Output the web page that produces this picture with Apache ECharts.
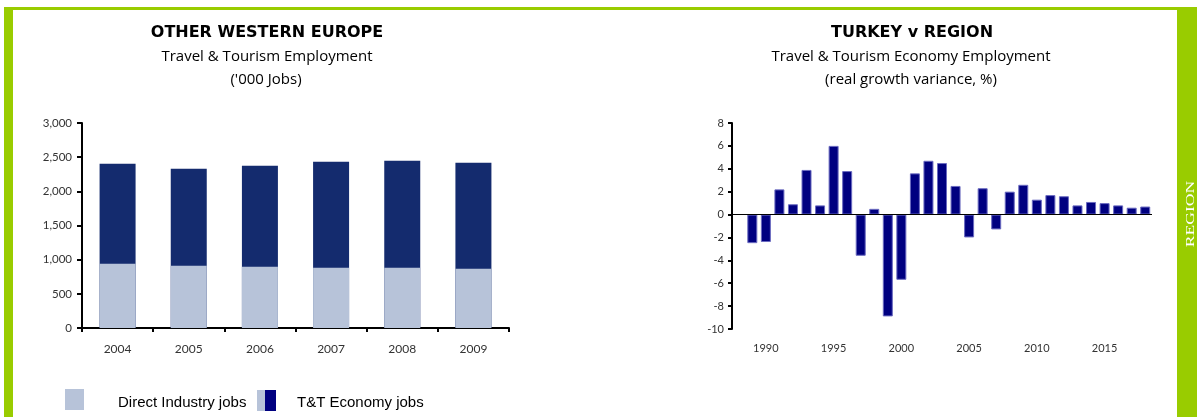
<!DOCTYPE html>
<html>
<head>
<meta charset="utf-8">
<script src="https://cdn.jsdelivr.net/npm/echarts@6/dist/echarts.min.js"></script>
<style>
  html, body { margin: 0; padding: 0; background: #ffffff; }
  #chart { width: 1197px; height: 417px; }
</style>
</head>
<body>
<div id="chart"></div>
<script>
// Left panel: Other Western Europe, Travel & Tourism employment ('000 jobs)
const empYears = ['2004', '2005', '2006', '2007', '2008', '2009'];
const directJobs = [941, 912, 897, 882, 882, 868];
const economyJobs = [2404, 2331, 2375, 2434, 2448, 2419];
const empTicks = [0, 3000, 500];

// Right panel: Turkey v region, T&T economy employment real growth variance (%)
const varYears = ['1988', '1989', '1990', '1991', '1992', '1993', '1994', '1995', '1996', '1997',
  '1998', '1999', '2000', '2001', '2002', '2003', '2004', '2005', '2006', '2007', '2008',
  '2009', '2010', '2011', '2012', '2013', '2014', '2015', '2016', '2017', '2018'];
const growthVariance = [null, -2.5, -2.4, 2.2, 0.9, 3.9, 0.8, 6.0, 3.8, -3.6,
  0.5, -8.9, -5.7, 3.6, 4.7, 4.5, 2.5, -2.0, 2.3, -1.3, 2.0,
  2.6, 1.3, 1.7, 1.6, 0.8, 1.1, 1.0, 0.8, 0.6, 0.7];
const varTicks = [-10, 8, 2];

const legendNames = ['Direct Industry jobs', 'T&T Economy jobs'];
const leftTitle = ['OTHER WESTERN EUROPE', 'Travel & Tourism Employment', "('000 Jobs)"];
const rightTitle = ['TURKEY v REGION', 'Travel & Tourism Economy Employment', '(real growth variance, %)'];
const sideLabel = 'REGION';

const GREEN = '#99CC00';
const LIGHT = '#B7C3D9';
const DARK = '#142B6E';
const NAVY = '#000080';
const LABEL_FONT = 'Lato, "Open Sans", sans-serif';
const HEAD_FONT = 'bold 16px "DejaVu Sans", sans-serif';
const SUB_FONT = '15px "Open Sans", Lato, sans-serif';

const chart = echarts.init(document.getElementById('chart'), null, { renderer: 'canvas' });

const axisText = { color: '#333333', fontSize: 11, fontFamily: LABEL_FONT };

function titleText(str, x, y, font) {
  return {
    type: 'text', silent: true,
    style: {
      text: str, x: x, y: y, align: 'center', verticalAlign: 'middle',
      fill: '#000000', font: font
    }
  };
}

const option = {
  animation: false,
  backgroundColor: '#ffffff',
  grid: [
    { left: 82, top: 123, width: 427, height: 205 },
    { left: 732, top: 123, width: 420, height: 206 }
  ],
  xAxis: [
    {
      gridIndex: 0, type: 'category', data: empYears,
      axisLine: { lineStyle: { color: '#000000', width: 2 } },
      axisTick: { show: true, length: 4, lineStyle: { color: '#000000', width: 2 } },
      axisLabel: Object.assign({}, axisText, { margin: 15, fontSize: 12 })
    },
    {
      gridIndex: 1, type: 'category', data: varYears,
      axisLine: { show: false, onZero: false },
      axisTick: { show: false },
      axisLabel: Object.assign({
        margin: 14,
        interval: function (i, v) { return Number(v) % 5 === 0; }
      }, axisText)
    }
  ],
  yAxis: [
    {
      gridIndex: 0, type: 'value', min: empTicks[0], max: empTicks[1], interval: empTicks[2],
      axisLine: { show: true, lineStyle: { color: '#000000', width: 2 } },
      axisTick: { show: true, length: 5, lineStyle: { color: '#000000', width: 2 } },
      axisLabel: Object.assign({
        margin: 10,
        formatter: function (v) { return v.toLocaleString('en-US'); }
      }, axisText, { fontSize: 11.5 }),
      splitLine: { show: false }
    },
    {
      gridIndex: 1, type: 'value', min: varTicks[0], max: varTicks[1], interval: varTicks[2],
      axisLine: { show: true, lineStyle: { color: '#000000', width: 2 } },
      axisTick: { show: true, length: 4, lineStyle: { color: '#000000', width: 2 } },
      axisLabel: Object.assign({ margin: 8 }, axisText),
      splitLine: { show: false }
    }
  ],
  series: [
    {
      name: legendNames[1], type: 'bar', xAxisIndex: 0, yAxisIndex: 0,
      data: economyJobs, barWidth: 36, barGap: '-100%',
      itemStyle: { color: DARK }
    },
    {
      name: legendNames[0], type: 'bar', xAxisIndex: 0, yAxisIndex: 0,
      data: directJobs, barWidth: 36, barGap: '-100%',
      itemStyle: { color: LIGHT }
    },
    {
      name: 'variance', type: 'bar', xAxisIndex: 1, yAxisIndex: 1,
      data: growthVariance, barWidth: 10,
      itemStyle: { color: NAVY, borderColor: '#6A6AC0', borderWidth: 1 },
      markLine: {
        silent: true, symbol: 'none', label: { show: false },
        lineStyle: { color: '#000000', width: 1, type: 'solid' },
        data: [{ yAxis: 0 }]
      }
    }
  ],
  graphic: [
    // frame
    { type: 'rect', silent: true, shape: { x: 4, y: 7, width: 1193, height: 3 }, style: { fill: GREEN } },
    { type: 'rect', silent: true, shape: { x: 4, y: 7, width: 9, height: 410 }, style: { fill: GREEN } },
    { type: 'rect', silent: true, shape: { x: 1177, y: 7, width: 20, height: 410 }, style: { fill: GREEN } },
    {
      type: 'text', silent: true, x: 1191, y: 214, rotation: Math.PI / 2,
      style: {
        text: sideLabel, align: 'center', verticalAlign: 'middle', fill: '#ffffff',
        font: '13px "Liberation Serif", "DejaVu Serif", serif'
      },
      scaleX: 1.35
    },
    // titles
    titleText(leftTitle[0], 267, 33, HEAD_FONT),
    titleText(leftTitle[1], 267, 56.5, SUB_FONT),
    titleText(leftTitle[2], 266, 80, SUB_FONT),
    titleText(rightTitle[0], 912, 33, HEAD_FONT),
    titleText(rightTitle[1], 911, 56.5, SUB_FONT),
    titleText(rightTitle[2], 911, 80, SUB_FONT),
    // legend
    { type: 'rect', silent: true, shape: { x: 65, y: 389, width: 19, height: 21 }, style: { fill: LIGHT } },
    {
      type: 'text', silent: true,
      style: { text: legendNames[0], x: 118, y: 403, verticalAlign: 'middle', fill: '#000000',
        font: '15px "Liberation Sans", Arial, sans-serif' }
    },
    { type: 'rect', silent: true, shape: { x: 257, y: 390, width: 8, height: 21 }, style: { fill: LIGHT } },
    { type: 'rect', silent: true, shape: { x: 265, y: 390, width: 11, height: 21 }, style: { fill: NAVY } },
    {
      type: 'text', silent: true,
      style: { text: legendNames[1], x: 297, y: 403, verticalAlign: 'middle', fill: '#000000',
        font: '15px "Liberation Sans", Arial, sans-serif' }
    }
  ]
};

chart.setOption(option);
</script>
</body>
</html>
